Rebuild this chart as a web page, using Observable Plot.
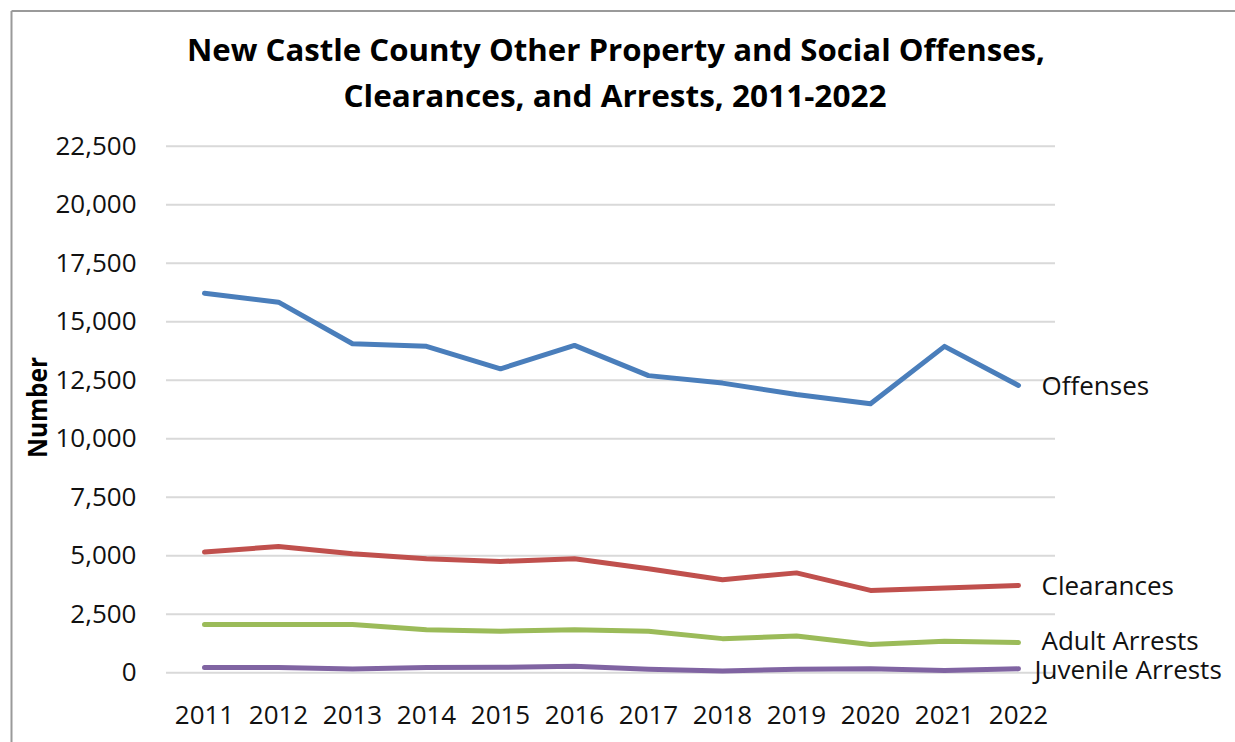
<!DOCTYPE html>
<html>
<head>
<meta charset="utf-8">
<script src="https://cdn.jsdelivr.net/npm/d3@7"></script>
<script src="https://cdn.jsdelivr.net/npm/@observablehq/plot@0.6"></script>
<style>
  html, body { margin: 0; padding: 0; background: #fff; }
  #chart svg { display: block; }
</style>
</head>
<body>
<div id="chart"></div>
<script>
const years = [2011, 2012, 2013, 2014, 2015, 2016, 2017, 2018, 2019, 2020, 2021, 2022];
const seriesNames = ["Offenses", "Clearances", "Adult Arrests", "Juvenile Arrests"];
const offenses   = [16220, 15840, 14060, 13950, 12990, 13990, 12700, 12380, 11890, 11500, 13950, 12280];
const clearances = [5160, 5400, 5090, 4870, 4760, 4870, 4450, 3980, 4270, 3520, 3620, 3730];
const adultArrests = [2060, 2060, 2060, 1840, 1780, 1840, 1780, 1460, 1570, 1210, 1350, 1290];
const juvenileArrests = [230, 230, 160, 230, 235, 280, 150, 80, 150, 170, 100, 170];
const seriesColors = ["#4a7ebb", "#c0504d", "#9bbb59", "#8064a2"];
const yTicks = [0, 2500, 5000, 7500, 10000, 12500, 15000, 17500, 20000, 22500];
const titleLines = ["New Castle County Other Property and Social Offenses,", "Clearances, and Arrests, 2011-2022"];
const yLabel = "Number";

const valuesBySeries = [offenses, clearances, adultArrests, juvenileArrests];
const data = [];
seriesNames.forEach((s, i) => years.forEach((yr, j) => data.push({series: s, year: yr, value: valuesBySeries[i][j]})));
const lastPoints = seriesNames.map((s, i) => ({series: s, year: years[years.length - 1], value: valuesBySeries[i][years.length - 1]}));

const W = 1235, H = 742;
const chart = Plot.plot({
  width: W,
  height: H,
  marginTop: 145.8,
  marginBottom: H - 672.3,
  marginLeft: 166,
  marginRight: W - 1055,
  style: {fontFamily: "'Open Sans', sans-serif", fontSize: "26px", color: "#111", background: "#fff", overflow: "visible"},
  x: {type: "point", domain: years, padding: 0.5},
  y: {domain: [0, 22500]},
  color: {domain: seriesNames, range: seriesColors},
  marks: [
    Plot.ruleY(yTicks, {stroke: "#d9d9d9", strokeWidth: 2}),
    Plot.axisY({ticks: yTicks, tickSize: 0, tickPadding: 30, tickFormat: d3.format(","), label: null, fontSize: 26}),
    Plot.axisX({tickSize: 0, tickPadding: 33, label: null, fontSize: 26, tickFormat: d => String(d)}),
    Plot.line(data, {x: "year", y: "value", z: "series", stroke: "series", strokeWidth: 5, strokeLinecap: "round", strokeLinejoin: "round"}),
    Plot.text(lastPoints.filter(d => d.series === "Offenses" || d.series === "Clearances"), {x: "year", y: "value", text: "series", textAnchor: "start", dx: 23, dy: 1, fill: "#111", fontSize: 26}),
    Plot.text(lastPoints.filter(d => d.series === "Adult Arrests"), {x: "year", y: "value", text: "series", textAnchor: "start", dx: 23, dy: -1, fill: "#111", fontSize: 26}),
    Plot.text(lastPoints.filter(d => d.series === "Juvenile Arrests"), {x: "year", y: "value", text: "series", textAnchor: "start", dx: 16, dy: 2, fill: "#111", fontSize: 26})
  ]
});
document.getElementById("chart").appendChild(chart);

const svg = d3.select(chart);
// outer chart border (top and left visible)
svg.append("line").attr("x1", 11.5).attr("x2", W).attr("y1", 11).attr("y2", 11).attr("stroke", "#9a9a9a").attr("stroke-width", 2);
svg.append("line").attr("x1", 11.5).attr("x2", 11.5).attr("y1", 11).attr("y2", H).attr("stroke", "#9a9a9a").attr("stroke-width", 2);

const titleSpec = [{x: 616, y: 60.7, len: 858}, {x: 615, y: 106.7, len: 543}];
titleLines.forEach((t, i) => {
  svg.append("text")
    .attr("x", titleSpec[i].x).attr("y", titleSpec[i].y)
    .attr("text-anchor", "middle")
    .attr("font-family", "'Open Sans', sans-serif")
    .attr("font-weight", "bold")
    .attr("font-size", 31)
    .attr("fill", "#000")
    .attr("textLength", titleSpec[i].len)
    .attr("lengthAdjust", "spacingAndGlyphs")
    .text(t);
});

svg.append("text")
  .attr("transform", "translate(47,407.5) rotate(-90)")
  .attr("text-anchor", "middle")
  .attr("font-family", "'Open Sans', sans-serif")
  .attr("font-weight", "bold")
  .attr("font-size", 26)
  .attr("fill", "#000")
  .attr("textLength", 101)
  .attr("lengthAdjust", "spacingAndGlyphs")
  .text(yLabel);
</script>
</body>
</html>
